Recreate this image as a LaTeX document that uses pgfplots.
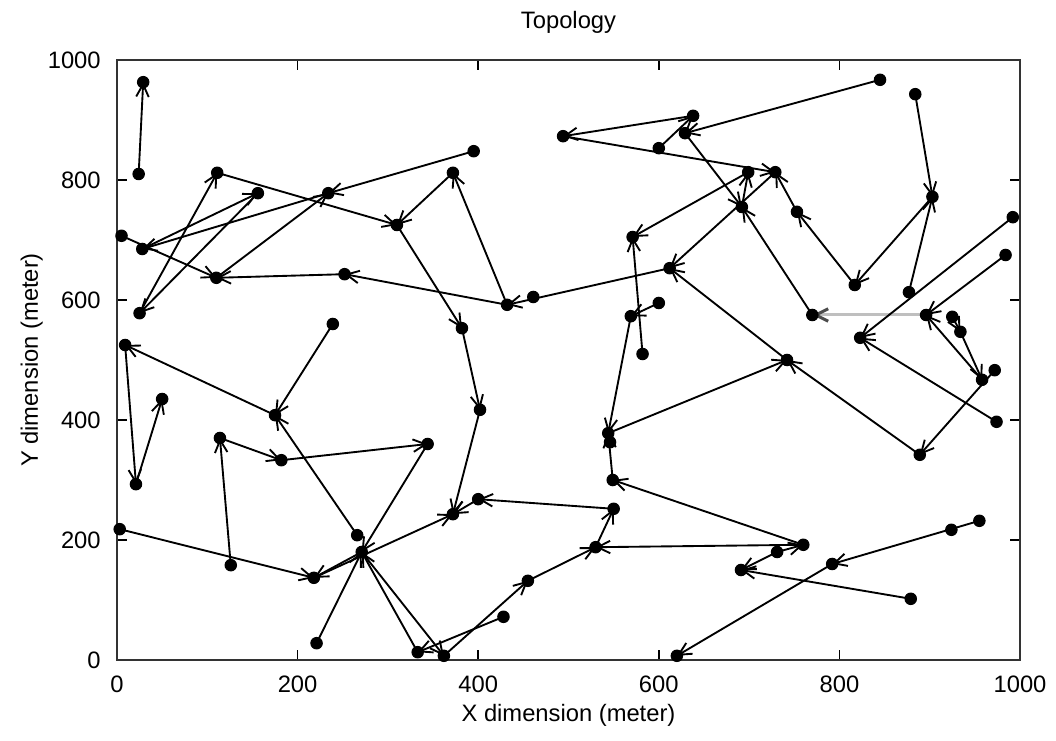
\documentclass[border=0pt]{standalone}
\usepackage{fontspec}
\setmainfont{Liberation Sans}
\usepackage{pgfplots}
\usepackage{pgfplotstable}
\pgfplotsset{compat=1.18}
\usetikzlibrary{arrows.meta}

\pgfplotstableread{
x y tx ty
24 810 29 963
395 848 234 778
111 812 310 725
25 578 111 812
156 778 25 578
28 685 156 778
234 778 28 685
110 637 234 778
5 707 110 637
252 643 110 637
432 592 252 643
432 592 372 812
372 812 310 725
310 725 382 553
382 553 402 417
402 417 372 243
612 653 432 592
845 967 629 878
638 907 494 873
600 853 638 907
494 873 729 813
629 878 692 755
699 813 571 705
729 813 612 653
770 575 692 755
692 755 699 813
753 747 729 813
817 625 753 747
903 772 817 625
884 943 903 772
877 613 903 772
992 738 823 537
984 675 896 575
925 572 934 547
934 547 958 467
958 467 896 575
972 483 889 342
974 397 823 537
889 342 742 500
742 500 612 653
544 378 742 500
569 573 544 378
600 595 569 573
582 510 571 705
760 192 549 300
549 300 544 378
760 192 530 188
731 180 760 192
731 180 691 150
879 102 691 150
955 232 792 160
792 160 620 7
455 132 530 188
530 188 550 252
550 252 400 268
400 268 372 243
362 7 455 132
428 72 333 13
333 13 271 180
271 180 362 7
221 28 271 180
344 360 271 180
182 333 344 360
114 370 182 333
126 158 114 370
3 218 218 137
271 180 218 137
218 137 372 243
266 208 175 408
239 560 175 408
175 408 9 525
9 525 21 293
21 293 50 435
}\edges

\pgfplotstableread{
x y tx ty
896 575 770 575
}\grayedge

\pgfplotstableread{
x y
24 810
29 963
111 812
156 778
234 778
395 848
5 707
28 685
110 637
252 643
25 578
310 725
372 812
432 592
461 605
382 553
402 417
494 873
638 907
600 853
629 878
571 705
845 967
884 943
903 772
699 813
729 813
692 755
753 747
992 738
984 675
612 653
817 625
877 613
770 575
896 575
823 537
925 572
934 547
958 467
972 483
742 500
974 397
889 342
582 510
569 573
600 595
544 378
546 363
549 300
50 435
9 525
175 408
239 560
21 293
114 370
182 333
344 360
3 218
126 158
218 137
266 208
271 180
221 28
333 13
362 7
372 243
400 268
428 72
455 132
530 188
550 252
760 192
731 180
691 150
792 160
924 217
955 232
879 102
620 7
}\nodes

\begin{document}
\begin{tikzpicture}
\begin{axis}[
  at={(0,0)}, anchor=south west,
  scale only axis, width=361.2pt, height=240pt,
  xmin=0, xmax=1000, ymin=0, ymax=1000,
  xtick={0,200,...,1000}, ytick={0,200,...,1000},
  tick align=inside, major tick length=4pt,
  tick style={black, line width=0.6pt},
  axis line style={black!80, line width=0.8pt},
  /pgf/number format/assume math mode=true,
  /pgf/number format/1000 sep={},
  tick label style={font=\fontsize{9.5}{11}\selectfont},
  xticklabel style={yshift=-3pt},
  yticklabel style={xshift=-3pt},
  xlabel={X dimension (meter)},
  xlabel style={at={(axis description cs:0.5,-0.103)}, anchor=base, font=\fontsize{9.5}{11}\selectfont},
  ylabel={Y dimension (meter)},
  ylabel style={at={(axis description cs:-0.0875,0.5)}, anchor=base, font=\fontsize{9.5}{11}\selectfont},
  clip=false,
]
\addplot[black!25, line width=1.2pt, -{Straight Barb[length=5pt,width=5pt,color=black!70]},
  quiver={u={\thisrow{tx}-\thisrow{x}}, v={\thisrow{ty}-\thisrow{y}}}]
  table[x=x, y=y] \grayedge;
\addplot[black, line width=0.75pt, -{Straight Barb[length=5pt,width=5pt]},
  quiver={u={\thisrow{tx}-\thisrow{x}}, v={\thisrow{ty}-\thisrow{y}}}]
  table[x=x, y=y] \edges;
\addplot[only marks, mark=*, mark size=2.3pt, black] table[x=x, y=y] \nodes;
\node[anchor=base, font=\fontsize{9.5}{11}\selectfont, inner sep=0pt] at (axis description cs:0.5,1.052) {Topology};
\end{axis}
\pgfresetboundingbox
\path (-46.8pt,-32.4pt) rectangle (375.6pt,264pt);
\end{tikzpicture}
\end{document}
